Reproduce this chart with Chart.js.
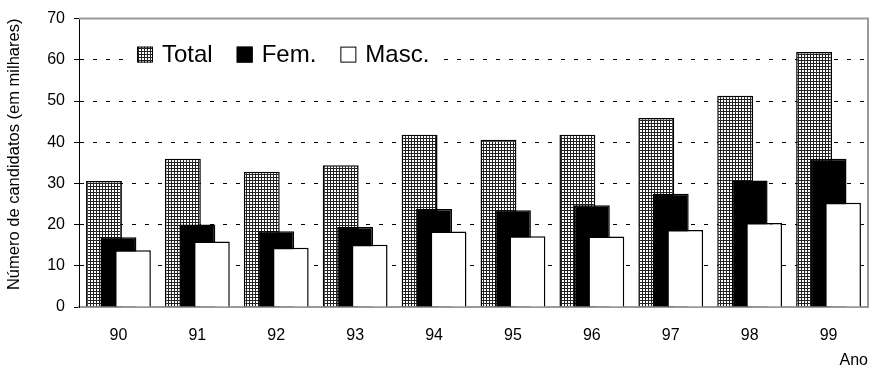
<!DOCTYPE html>
<html>
<head>
<meta charset="utf-8">
<script src="https://cdn.jsdelivr.net/npm/chart.js@4.4.1/dist/chart.umd.min.js"></script>
<style>
  body { margin: 0; background: #fff; }
  #wrap { width: 876px; height: 370px; }
</style>
</head>
<body>
<div id="wrap"><canvas id="chart" width="876" height="370"></canvas></div>
<script>
const years = ["90", "91", "92", "93", "94", "95", "96", "97", "98", "99"];
const total = [30.6, 36.0, 32.8, 34.4, 41.8, 40.6, 41.8, 45.9, 51.3, 61.9];
const fem = [16.9, 20.0, 18.4, 19.4, 23.8, 23.5, 24.7, 27.5, 30.7, 36.0];
const masc = [13.8, 15.9, 14.4, 15.1, 18.3, 17.2, 17.1, 18.7, 20.4, 25.3];
const seriesNames = ["Total", "Fem.", "Masc."];

const FONT = "'Liberation Sans', Arial, sans-serif";

// small grid hatch used for the "Total" bars
function gridPattern() {
  const c = document.createElement("canvas");
  c.width = 3;
  c.height = 3;
  const g = c.getContext("2d");
  g.fillStyle = "#fff";
  g.fillRect(0, 0, 3, 3);
  g.fillStyle = "#222";
  g.fillRect(0, 0, 3, 1);
  g.fillRect(0, 0, 1, 3);
  return g.createPattern(c, "repeat");
}

// draw datasets first-to-last so later series overlap earlier ones,
// plus the grey plot-area frame
const overlapPlugin = {
  id: "overlap",
  beforeDatasetsDraw(chart) {
    const { ctx, chartArea: a } = chart;
    ctx.save();
    ctx.strokeStyle = "#999";
    ctx.lineWidth = 2;
    ctx.beginPath();
    ctx.moveTo(a.left, a.top);
    ctx.lineTo(a.right, a.top);
    ctx.lineTo(a.right, a.bottom);
    ctx.stroke();
    ctx.restore();
    const metas = chart.getSortedVisibleDatasetMetas();
    metas.forEach(meta => {
      if (chart._drawDataset) chart._drawDataset(meta);
      else meta.controller.draw();
    });
    return false;
  }
};

// legend sitting inside the plot area, on a white box
const innerLegend = {
  id: "innerLegend",
  afterDraw(chart) {
    const { ctx, chartArea: a } = chart;
    const sets = chart.data.datasets;
    const box = 16;
    const gap = 9;
    const spacing = 24;
    ctx.save();
    ctx.font = "24px " + FONT;
    let width = 0;
    sets.forEach((ds, i) => {
      width += box + gap + ctx.measureText(ds.label).width;
      if (i < sets.length - 1) width += spacing;
    });
    const x0 = a.left + 58;
    const cy = a.top + 36;
    ctx.fillStyle = "#fff";
    ctx.fillRect(x0 - 14, cy - 14, width + 26, 28);
    let x = x0;
    sets.forEach(ds => {
      ctx.fillStyle = ds.backgroundColor;
      ctx.fillRect(x, cy - box / 2, box, box);
      ctx.strokeStyle = "#000";
      ctx.lineWidth = 1;
      ctx.strokeRect(x + 0.5, cy - box / 2 + 0.5, box - 1, box - 1);
      x += box + gap;
      ctx.fillStyle = "#000";
      ctx.textBaseline = "middle";
      ctx.textAlign = "left";
      ctx.fillText(ds.label, x, cy + 1);
      x += ctx.measureText(ds.label).width + spacing;
    });
    ctx.restore();
  }
};

const barStyle = {
  borderColor: "#000",
  borderWidth: 1.5,
  borderSkipped: "start",
  categoryPercentage: 0.55,
  barPercentage: 2.48
};

new Chart(document.getElementById("chart"), {
  type: "bar",
  data: {
    labels: years,
    datasets: [
      { label: seriesNames[0], data: total, backgroundColor: gridPattern(), ...barStyle },
      { label: seriesNames[1], data: fem, backgroundColor: "#000", ...barStyle },
      { label: seriesNames[2], data: masc, backgroundColor: "#fff", ...barStyle }
    ]
  },
  options: {
    responsive: false,
    animation: false,
    layout: { padding: { left: 0, right: 8, top: 17, bottom: 0 } },
    plugins: {
      legend: { display: false },
      tooltip: { enabled: false }
    },
    scales: {
      x: {
        grid: { display: false, drawTicks: false },
        border: { display: true, color: "#999", width: 2 },
        ticks: { color: "#000", font: { family: FONT, size: 16 }, padding: 19 },
        title: {
          display: true,
          text: "Ano",
          align: "end",
          color: "#000",
          font: { family: FONT, size: 16 },
          padding: { top: 0, bottom: 0 }
        },
        afterFit(scale) { scale.height = 63; }
      },
      y: {
        min: 0,
        max: 70,
        ticks: { stepSize: 10, color: "#000", font: { family: FONT, size: 16 }, padding: 9 },
        grid: {
          color: ctx => (ctx.tick && ctx.tick.value === 0 ? "rgba(0,0,0,0)" : "#000"),
          lineWidth: 1,
          drawTicks: true,
          tickLength: 5,
          tickColor: "#000",
          tickBorderDash: []
        },
        border: { display: true, color: "#000", width: 1, dash: [4, 9] },
        title: {
          display: true,
          text: "Número de candidatos (em milhares)",
          align: "end",
          color: "#000",
          font: { family: FONT, size: 16.5 },
          padding: { top: 5, bottom: 0 }
        },
        afterFit(scale) { scale.width = 79; }
      }
    }
  },
  plugins: [overlapPlugin, innerLegend]
});
</script>
</body>
</html>
